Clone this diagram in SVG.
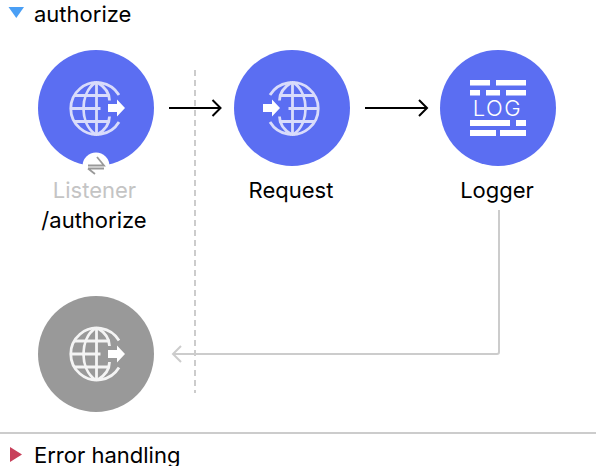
<svg xmlns="http://www.w3.org/2000/svg" xmlns:xlink="http://www.w3.org/1999/xlink" width="596" height="466" viewBox="0 0 596 466">
<style>
text{font-family:Inter,"Liberation Sans",sans-serif;font-size:22px;fill:#000}
.m{text-anchor:middle}
.blue{fill:#5b6ef2}
.gl{fill:none;stroke:#d9dcfb;stroke-width:2.800}
.gw{fill:none;stroke:#f4f4f4;stroke-width:2.800}
.conn{fill:none;stroke:#000;stroke-width:2}
.grey{fill:none;stroke:#ccc;stroke-width:2}
.bar{fill:#fff}
</style>
<defs>
<g id="globe">
<path d="M22.500 -13.500A26 26 0 1 0 22.500 13.500"/>
<path d="M0 -26V26M-25 0H4M-22 -13H13M-22 13H13"/>
<path d="M-1 -26C-17 -15 -17 15 -1 26"/>
<path d="M1 -26C11 -20 13 -14 13 -8M1 26C11 20 13 14 13 8"/>
</g>
<path id="arrowOut" d="M0 -4H9V-8.500L17 0L9 8.500V4H0Z" fill="#fff"/>
</defs>
<g id="connectors">
<path class="grey" stroke-dasharray="6 4" d="M195 70V393"/>
<path class="conn" d="M169 108H220M212.500 100L220.500 108L212.500 116"/>
<path class="conn" d="M365 108H427M419 100L427 108L419 116"/>
<path class="grey" d="M499 210V352Q499 354 497 354H173M181 346L173 354L181 362"/>
</g>
<g id="header-authorize">
<path d="M8.500 7H24L16.300 18Z" fill="#4a9ff5"/>
<text x="34" y="22">authorize</text>
</g>
<g id="node-listener">
<circle class="blue" cx="96" cy="108" r="58"/>
<use href="#globe" xlink:href="#globe" x="96.500" y="108.500" class="gl"/>
<use href="#arrowOut" xlink:href="#arrowOut" x="108" y="108"/>
<circle cx="96" cy="166" r="13.500" fill="#fff"/>
<path d="M88 165.500H104L97 157M88 168.500H104M88 168.500L95 174" fill="none" stroke="#999" stroke-width="1.800"/>
<text class="m" x="94.500" y="198" style="fill:#c4c4c4">Listener</text>
<text class="m" x="94" y="228">/authorize</text>
</g>
<g id="node-request">
<circle class="blue" cx="292" cy="108" r="58"/>
<use href="#globe" xlink:href="#globe" transform="translate(292.500 108.500) scale(-1 1)" class="gl"/>
<use href="#arrowOut" xlink:href="#arrowOut" x="263" y="108"/>
<text class="m" x="291" y="198">Request</text>
</g>
<g id="node-logger">
<circle class="blue" cx="498" cy="108" r="58"/>
<path class="bar" d="M470 80h20v5.500h-20zM496 80h30v5.500h-30zM470 90h10v5.500h-10zM486 90h14v5.500h-14zM506 90h20v5.500h-20zM470 120h40v6h-40zM516 120h10v6h-10zM470 130h26v6h-26zM500 130h26v6h-26z"/>
<text class="m" x="497.500" y="116" style="font-size:22px;fill:#fff;font-weight:300;letter-spacing:1.500px">LOG</text>
<text class="m" x="497" y="198">Logger</text>
</g>
<g id="node-response">
<circle cx="96" cy="354" r="58" fill="#999"/>
<use href="#globe" xlink:href="#globe" x="96.500" y="354" class="gw"/>
<use href="#arrowOut" xlink:href="#arrowOut" x="108" y="354"/>
</g>
<g id="footer-error">
<path d="M0 433H596" stroke="#ccc" stroke-width="2" fill="none"/>
<path d="M10 447L22 454.500L10 462Z" fill="#c8405a"/>
<text x="34" y="463">Error handling</text>
</g>
</svg>
